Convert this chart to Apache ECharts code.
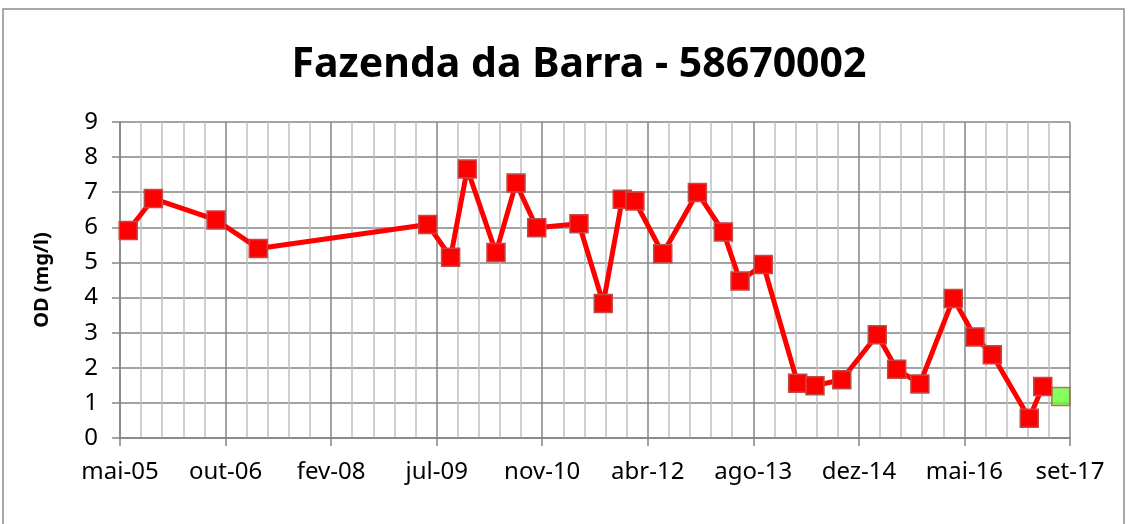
<!DOCTYPE html>
<html>
<head>
<meta charset="utf-8">
<script src="https://cdn.jsdelivr.net/npm/echarts@6/dist/echarts.min.js"></script>
<style>
  html, body { margin: 0; padding: 0; background: #fff; }
  #chart { width: 1129px; height: 524px; }
</style>
</head>
<body>
<div id="chart"></div>
<script>
// axis starts at this date, ticks every 500 days (Excel-style date axis)
const axisStart = '2005-05-29'
const tickDays = 500
const tickLabels = ['mai-05', 'out-06', 'fev-08', 'jul-09', 'nov-10', 'abr-12', 'ago-13', 'dez-14', 'mai-16', 'set-17']

const sampleDates = [
  '2005-07-07', '2005-11-03', '2006-08-27', '2007-03-15', '2009-05-26',
  '2009-09-11', '2009-11-29', '2010-04-14', '2010-07-18', '2010-10-24',
  '2011-05-12', '2011-09-04', '2011-12-03', '2012-02-01', '2012-06-12',
  '2012-11-23', '2013-03-26', '2013-06-13', '2013-10-01', '2014-03-13',
  '2014-06-03', '2014-10-08', '2015-03-25', '2015-06-25', '2015-10-13',
  '2016-03-19', '2016-06-30', '2016-09-20', '2017-03-14', '2017-05-17',
]
const odValues = [
  5.91, 6.82, 6.21, 5.4, 6.08,
  5.15, 7.66, 5.28, 7.26, 5.99,
  6.1, 3.83, 6.8, 6.75, 5.25,
  6.99, 5.87, 4.47, 4.94, 1.56,
  1.49, 1.66, 2.94, 1.96, 1.54,
  3.97, 2.88, 2.37, 0.56, 1.47,
]

const latestDate = '2017-08-10'
const latestValue = 1.18

function dayOffset(d) {
  return (Date.parse(d) - Date.parse(axisStart)) / 86400000
}

const chart = echarts.init(document.getElementById('chart'))

const font = "'Noto Sans', sans-serif"
const majorGrid = '#858585'
const minorGrid = '#c0c0c0'

chart.setOption({
  animation: false,
  backgroundColor: '#fff',
  graphic: [
    {
      type: 'rect',
      shape: { x: 3, y: 9, width: 1121, height: 540 },
      style: { fill: 'none', stroke: '#8c8c8c', lineWidth: 1.5 },
      z: -1,
    },
  ],
  title: {
    text: 'Fazenda da Barra - 58670002',
    left: 574,
    textAlign: 'center',
    top: 40,
    textStyle: { fontFamily: font, fontSize: 41, fontWeight: 'bold', color: '#000' },
  },
  grid: { left: 120, right: 59, top: 122, bottom: 86 },
  xAxis: {
    type: 'value',
    min: 0,
    max: tickDays * (tickLabels.length - 1),
    interval: tickDays,
    axisLine: { show: true, lineStyle: { color: majorGrid, width: 1.5 } },
    axisTick: { show: true, length: 8, lineStyle: { color: majorGrid, width: 1.5 } },
    minorTick: { show: false, splitNumber: 5 },
    splitLine: { show: true, lineStyle: { color: majorGrid, width: 1.5 } },
    minorSplitLine: { show: true, lineStyle: { color: minorGrid, width: 1.5 } },
    axisLabel: {
      margin: 22,
      fontFamily: font,
      fontSize: 24,
      color: '#000',
      formatter: (v) => tickLabels[Math.round(v / tickDays)],
    },
  },
  yAxis: {
    type: 'value',
    min: 0,
    max: 9,
    interval: 1,
    name: 'OD (mg/l)',
    nameLocation: 'middle',
    nameGap: 68,
    nameTextStyle: { fontFamily: font, fontSize: 20, fontWeight: 'bold', color: '#000' },
    axisLine: { show: true, lineStyle: { color: majorGrid, width: 1.5 } },
    axisTick: { show: true, length: 8, lineStyle: { color: majorGrid, width: 1.5 } },
    splitLine: { show: true, lineStyle: { color: majorGrid, width: 1.5 } },
    axisLabel: { margin: 22, fontFamily: font, fontSize: 24, color: '#000' },
  },
  series: [
    {
      name: 'OD',
      type: 'line',
      data: sampleDates.map((d, i) => [dayOffset(d), odValues[i]]),
      lineStyle: { color: '#ff0000', width: 5 },
      symbol: 'rect',
      symbolSize: 18,
      itemStyle: { color: '#ff0000', borderColor: '#be4b48', borderWidth: 1.5 },
    },
    {
      name: 'OD recente',
      type: 'scatter',
      data: [[dayOffset(latestDate), latestValue]],
      symbol: 'rect',
      symbolSize: 18,
      itemStyle: { color: '#66ff33', borderColor: '#be4b48', borderWidth: 1.5 },
    },
  ],
})
</script>
</body>
</html>
